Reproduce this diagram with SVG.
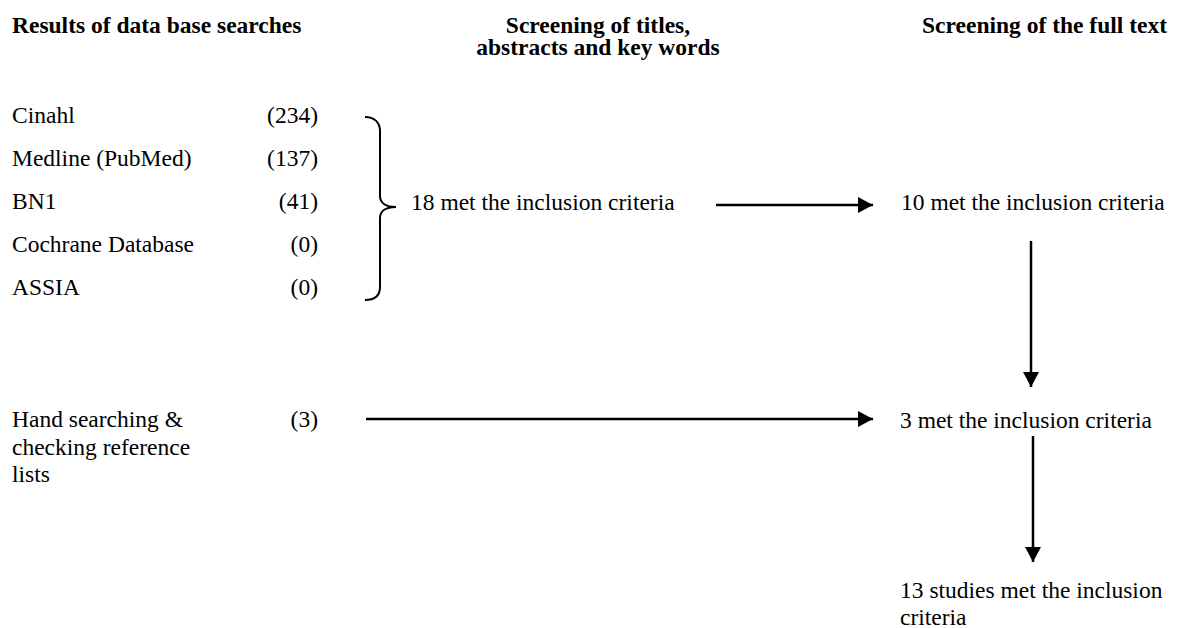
<svg xmlns="http://www.w3.org/2000/svg" width="1179" height="628" viewBox="0 0 1179 628">
  <style>
    text { font-family: "Liberation Serif", "Times New Roman", serif; font-size: 23.5px; fill: #000; }
    .h { font-weight: bold; }
    .end { text-anchor: end; }
    .mid { text-anchor: middle; }
    .conn { stroke: #000; stroke-width: 2.5; fill: none; }
    .brace { stroke: #000; stroke-width: 2; fill: none; }
  </style>
  <defs>
    <marker id="ah" markerUnits="userSpaceOnUse" markerWidth="17" markerHeight="17" refX="15" refY="8" orient="auto">
      <path d="M0,0 L15,8 L0,16 z" fill="#000"/>
    </marker>
  </defs>
  <rect width="1179" height="628" fill="#fff"/>

  <g id="headings">
    <text class="h" x="12" y="33">Results of data base searches</text>
    <text class="h mid" x="598" y="33">Screening of titles,</text>
    <text class="h mid" x="598" y="55">abstracts and key words</text>
    <text class="h end" x="1167" y="33">Screening of the full text</text>
  </g>

  <g id="databases">
    <text x="12" y="123">Cinahl</text>
    <text class="end" x="318" y="123">(234)</text>
    <text x="12" y="166">Medline (PubMed)</text>
    <text class="end" x="318" y="166">(137)</text>
    <text x="12" y="209">BN1</text>
    <text class="end" x="318" y="209">(41)</text>
    <text x="12" y="252">Cochrane Database</text>
    <text class="end" x="318" y="252">(0)</text>
    <text x="12" y="295">ASSIA</text>
    <text class="end" x="318" y="295">(0)</text>
    <path class="brace" d="M365,117 C374,117 380,122 380,131 L380,196 C380,203 386,207 396,207 C386,207 380,211 380,218 L380,287 C380,296 374,300 365,300"/>
  </g>

  <g id="hand-search">
    <text x="12" y="427">Hand searching &amp;</text>
    <text x="12" y="455">checking reference</text>
    <text x="12" y="482">lists</text>
    <text class="end" x="318" y="427">(3)</text>
  </g>

  <g id="screen-18">
    <text x="411" y="210">18 met the inclusion criteria</text>
  </g>

  <g id="full-10">
    <text x="901" y="210">10 met the inclusion criteria</text>
  </g>

  <g id="full-3">
    <text x="900" y="428">3 met the inclusion criteria</text>
  </g>

  <g id="final-13">
    <text x="900" y="598">13 studies met the inclusion</text>
    <text x="900" y="625">criteria</text>
  </g>

  <g id="connectors">
    <line class="conn" x1="716" y1="205" x2="873" y2="205" marker-end="url(#ah)"/>
    <line class="conn" x1="366" y1="419" x2="873" y2="419" marker-end="url(#ah)"/>
    <line class="conn" x1="1031" y1="241" x2="1031" y2="387" marker-end="url(#ah)"/>
    <line class="conn" x1="1033" y1="436" x2="1033" y2="562" marker-end="url(#ah)"/>
  </g>
</svg>
